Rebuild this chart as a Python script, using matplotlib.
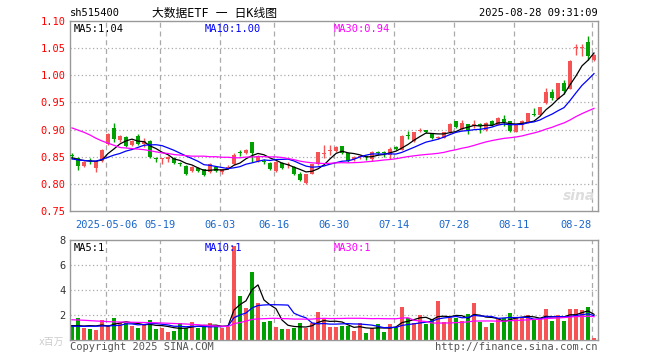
import matplotlib
matplotlib.use('Agg')
import matplotlib.pyplot as plt
import matplotlib.transforms as mtransforms
import numpy as np
import pandas as pd

# x tick dates (label, candle index)
date_labels = ['2025-05-06', '05-19', '06-03', '06-16', '06-30', '07-14', '07-28', '08-11', '08-28']
date_idx = [6, 15, 25, 34, 44, 54, 64, 74, 87]

opens = [0.852, 0.848, 0.833, 0.843, 0.830, 0.842, 0.873, 0.903, 0.880, 0.886,
         0.871, 0.889, 0.874, 0.879, 0.846, 0.845, 0.845, 0.847, 0.837, 0.833,
         0.824, 0.829, 0.827, 0.822, 0.831, 0.821, 0.830, 0.836, 0.858, 0.857,
         0.877, 0.842, 0.842, 0.839, 0.824, 0.839, 0.834, 0.831, 0.818, 0.801,
         0.819, 0.836, 0.855, 0.861, 0.860, 0.869, 0.856, 0.845, 0.849, 0.850,
         0.845, 0.859, 0.857, 0.854, 0.868, 0.863, 0.890, 0.879, 0.898, 0.899,
         0.892, 0.884, 0.885, 0.895, 0.915, 0.901, 0.910, 0.906, 0.911, 0.900,
         0.915, 0.909, 0.920, 0.915, 0.896, 0.909, 0.913, 0.928, 0.927, 0.949,
         0.970, 0.957, 0.986, 0.975, 1.051, 1.051, 1.061, 1.028]
closes = [0.851, 0.833, 0.840, 0.842, 0.842, 0.863, 0.892, 0.883, 0.888, 0.870,
          0.879, 0.873, 0.879, 0.849, 0.845, 0.846, 0.850, 0.839, 0.836, 0.818,
          0.831, 0.823, 0.816, 0.837, 0.824, 0.827, 0.831, 0.853, 0.857, 0.863,
          0.856, 0.851, 0.841, 0.828, 0.841, 0.830, 0.836, 0.819, 0.807, 0.818,
          0.836, 0.858, 0.856, 0.862, 0.868, 0.857, 0.843, 0.849, 0.850, 0.849,
          0.859, 0.857, 0.856, 0.865, 0.864, 0.889, 0.889, 0.895, 0.899, 0.896,
          0.885, 0.885, 0.895, 0.911, 0.905, 0.912, 0.899, 0.911, 0.906, 0.913,
          0.909, 0.922, 0.914, 0.897, 0.909, 0.915, 0.930, 0.927, 0.941, 0.970,
          0.959, 0.985, 0.971, 1.027, 1.052, 1.052, 1.036, 1.038]
highs = [0.857, 0.850, 0.842, 0.848, 0.843, 0.864, 0.893, 0.913, 0.890, 0.888,
         0.881, 0.891, 0.884, 0.880, 0.850, 0.847, 0.851, 0.849, 0.840, 0.834,
         0.832, 0.831, 0.828, 0.838, 0.833, 0.828, 0.834, 0.856, 0.862, 0.864,
         0.878, 0.853, 0.846, 0.841, 0.842, 0.841, 0.840, 0.832, 0.822, 0.819,
         0.837, 0.859, 0.872, 0.872, 0.870, 0.870, 0.857, 0.851, 0.854, 0.853,
         0.860, 0.861, 0.860, 0.868, 0.870, 0.890, 0.897, 0.896, 0.903, 0.900,
         0.893, 0.888, 0.896, 0.912, 0.916, 0.918, 0.911, 0.917, 0.912, 0.914,
         0.917, 0.924, 0.926, 0.916, 0.910, 0.918, 0.931, 0.940, 0.942, 0.977,
         0.974, 0.986, 0.991, 1.028, 1.058, 1.057, 1.073, 1.040]
lows = [0.845, 0.826, 0.831, 0.837, 0.822, 0.840, 0.872, 0.878, 0.877, 0.867,
        0.869, 0.871, 0.868, 0.847, 0.840, 0.836, 0.840, 0.837, 0.833, 0.816,
        0.822, 0.821, 0.814, 0.820, 0.822, 0.819, 0.828, 0.835, 0.851, 0.855,
        0.841, 0.840, 0.837, 0.826, 0.822, 0.828, 0.830, 0.817, 0.806, 0.799,
        0.818, 0.835, 0.848, 0.853, 0.858, 0.855, 0.841, 0.843, 0.845, 0.844,
        0.843, 0.853, 0.850, 0.846, 0.862, 0.862, 0.883, 0.877, 0.895, 0.893,
        0.883, 0.882, 0.884, 0.894, 0.903, 0.899, 0.891, 0.903, 0.894, 0.898,
        0.907, 0.908, 0.906, 0.895, 0.895, 0.900, 0.912, 0.925, 0.926, 0.948,
        0.955, 0.956, 0.966, 0.974, 1.037, 1.035, 1.029, 1.026]
volumes = [1.2, 1.73, 1.0, 0.9, 0.8, 1.6, 1.2, 1.8, 1.4, 1.33,
           1.1, 1.0, 1.25, 1.6, 0.9, 1.0, 0.67, 0.75, 1.33, 1.0,
           1.44, 1.0, 1.07, 1.33, 1.1, 1.0, 1.07, 7.5, 3.5, 2.6,
           5.44, 3.0, 1.47, 1.55, 1.07, 0.9, 0.9, 1.0, 1.4, 1.0,
           1.4, 2.24, 1.73, 1.07, 1.07, 1.1, 1.1, 0.72, 1.33, 0.6,
           0.93, 1.28, 0.67, 1.28, 1.07, 2.67, 1.8, 1.33, 2.0, 1.28,
           1.65, 3.1, 1.47, 1.8, 1.8, 1.55, 2.08, 3.0, 1.47, 1.07,
           1.4, 1.65, 1.8, 2.2, 1.73, 1.73, 2.0, 1.6, 1.65, 2.5,
           1.55, 2.0, 1.55, 2.5, 2.5, 2.4, 2.67, 0.2]

# MA values at the left edge (history before the window)
ma5_head = [0.848, 0.845, 0.843, 0.842]
ma10_head = [0.846, 0.844, 0.843, 0.842, 0.842, 0.845, 0.849, 0.853, 0.856]
ma30_head = [0.903, 0.899, 0.895, 0.890, 0.884, 0.879, 0.875, 0.871, 0.867, 0.866,
             0.865, 0.864, 0.863, 0.861, 0.859, 0.857, 0.856, 0.854, 0.853, 0.852,
             0.851, 0.851, 0.851, 0.850, 0.850, 0.849, 0.849, 0.848, 0.848]
vma5_head = [1.15, 1.15, 1.12, 1.15]
vma10_head = [1.10, 1.10, 1.09, 1.10, 1.10, 1.12, 1.13, 1.15, 1.17]
vma30_head = [1.62, 1.60, 1.58, 1.55, 1.52, 1.50, 1.47, 1.45, 1.44, 1.43,
              1.42, 1.41, 1.40, 1.39, 1.38, 1.36, 1.34, 1.32, 1.30, 1.28,
              1.25, 1.22, 1.18, 1.15, 1.12, 1.10, 1.08, 1.30, 1.40]

RED = '#f65454'
GREEN = '#00a000'
MONO = ['DejaVu Sans Mono', 'Noto Sans CJK SC']


def moving(vals, n, head):
    s = pd.Series(vals).rolling(n).mean().values
    s[:len(head)] = head
    return s


o = np.array(opens)
c = np.array(closes)
h = np.array(highs)
l = np.array(lows)
v = np.array(volumes)
x = np.arange(len(c))
col = np.where(c >= o, RED, GREEN)

fig = plt.figure(figsize=(6.6, 3.6), dpi=100)
W, H = 660.0, 360.0
ax = fig.add_axes([70 / W, 1 - 211 / H, 528 / W, 190 / H])
axv = fig.add_axes([70 / W, 1 - 340 / H, 528 / W, 100 / H])

for a in (ax, axv):
    a.set_xlim(-1 / 3, 87 + 2 / 3)
    for sp in a.spines.values():
        sp.set_color('#999999')
        sp.set_linewidth(1)
    a.tick_params(length=0, labelsize=7.5, pad=3)
    a.set_xticks([])
    for i in date_idx:
        a.axvline(i - 1 / 3, color='#aaaaaa', lw=0.9, ls=(0, (4, 3)), zorder=0)

# price panel
ax.set_ylim(0.75, 1.10)
yt = np.arange(0.75, 1.101, 0.05)
ax.set_yticks(yt)
ax.set_yticklabels(['%.2f' % t for t in yt], color='#ff0000', family=MONO)
for t in yt[1:-1]:
    ax.axhline(t, color='#aaaaaa', lw=0.9, ls=(0, (1, 2)), zorder=0)

ax.vlines(x, l, h, colors=col, lw=1, zorder=2)
ax.bar(x, np.maximum(np.abs(c - o), 0.0018), bottom=np.minimum(o, c), width=0.8,
       color=col, lw=0, zorder=3)

ax.plot(x, moving(c, 5, ma5_head), color='black', lw=0.9, zorder=4)
ax.plot(x, moving(c, 10, ma10_head), color='#0000ff', lw=0.9, zorder=4)
ax.plot(x, moving(c, 30, ma30_head), color='#ff00ff', lw=0.9, zorder=4)

# date labels under price panel
tr = mtransforms.blended_transform_factory(ax.transData, ax.transAxes)
for lab, i in zip(date_labels, date_idx):
    ax.text(i - 1 / 3, -0.045, lab, transform=tr, ha='right' if lab == '08-28' else 'center',
            va='top', color='#1a66cc', fontsize=7.5, family=MONO)

ma5_now = moving(c, 5, ma5_head)[-1]
ma10_now = moving(c, 10, ma10_head)[-1]
ma30_now = moving(c, 30, ma30_head)[-1]
ax.text(0.006, 0.985, 'MA5:%.2f' % ma5_now, transform=ax.transAxes, va='top',
        fontsize=7.5, family=MONO, color='black')
ax.text(0.255, 0.985, 'MA10:%.2f' % ma10_now, transform=ax.transAxes, va='top',
        fontsize=7.5, family=MONO, color='#0000ff')
ax.text(0.5, 0.985, 'MA30:%.2f' % ma30_now, transform=ax.transAxes, va='top',
        fontsize=7.5, family=MONO, color='#ff00ff')
ax.text(0.995, 0.04, 'sina', transform=ax.transAxes, ha='right', va='bottom',
        fontsize=10, style='italic', weight='bold', color='#dddddd', zorder=1)

# volume panel
axv.set_ylim(0, 8)
axv.set_yticks([2, 4, 6, 8])
axv.set_yticklabels(['2', '4', '6', '8'], color='#333333', family=MONO)
for t in [2, 4, 6]:
    axv.axhline(t, color='#aaaaaa', lw=0.9, ls=(0, (1, 2)), zorder=0)
axv.bar(x, v, width=0.8, color=col, lw=0, zorder=2)
axv.plot(x, moving(v, 5, vma5_head), color='black', lw=0.9, zorder=3)
axv.plot(x, moving(v, 10, vma10_head), color='#0000ff', lw=0.9, zorder=3)
axv.plot(x, moving(v, 30, vma30_head), color='#ff00ff', lw=0.9, zorder=3)
axv.text(0.006, 0.97, 'MA5:1', transform=axv.transAxes, va='top',
         fontsize=7.5, family=MONO, color='black')
axv.text(0.255, 0.97, 'MA10:1', transform=axv.transAxes, va='top',
         fontsize=7.5, family=MONO, color='#0000ff')
axv.text(0.5, 0.97, 'MA30:1', transform=axv.transAxes, va='top',
         fontsize=7.5, family=MONO, color='#ff00ff')

# header and footer
fig.text(70 / W, 1 - 13 / H, 'sh515400', fontsize=7.5, family=MONO, va='center')
fig.text(215 / W, 1 - 13 / H, '大数据ETF 一 日K线图', fontsize=8.5, family=MONO,
         va='center', ha='center')
fig.text(598 / W, 1 - 13 / H, '2025-08-28 09:31:09', fontsize=7.5, family=MONO,
         va='center', ha='right')
fig.text(70 / W, 1 - 347 / H, 'Copyright 2025 SINA.COM', fontsize=7.5, family=MONO,
         va='center', color='#555555')
fig.text(598 / W, 1 - 347 / H, 'http://finance.sina.com.cn', fontsize=7.5, family=MONO,
         va='center', ha='right', color='#555555')
fig.text(64 / W, 1 - 342 / H, 'x百万', fontsize=7, family=MONO, va='center',
         ha='right', color='#cccccc')

fig.savefig('out.png', dpi=100)
